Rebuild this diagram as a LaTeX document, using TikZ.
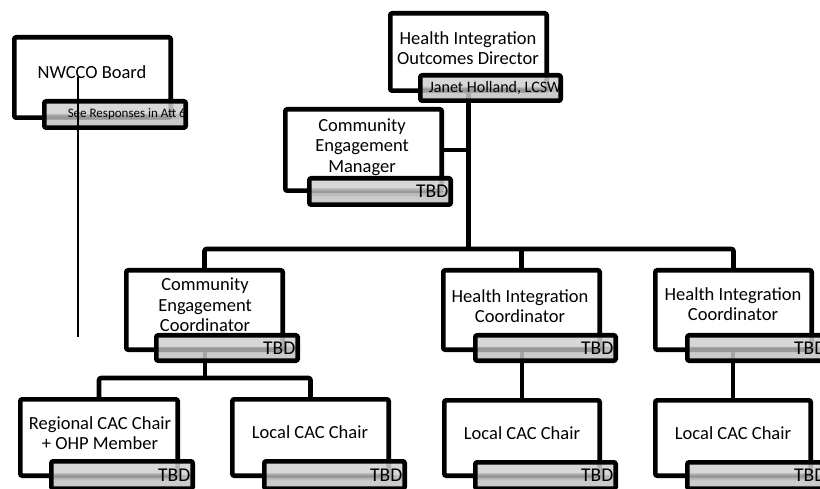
\documentclass[tikz,border=0pt]{standalone}
\usepackage{fontspec}
\setmainfont{Carlito}
\usetikzlibrary{backgrounds}
\definecolor{tbdgray}{RGB}{208,208,208}
\begin{document}
\begin{tikzpicture}[x=1pt,y=-1pt,
  frame/.style={draw=black,line width=4.6pt,fill=white,rounded corners=2pt,inner sep=0pt},
  tbdbox/.style={draw=black,line width=4.6pt,fill=tbdgray,fill opacity=0.85,
    rounded corners=2pt,inner sep=0pt,
    path picture={
      \fill[black,fill opacity=0.05] (path picture bounding box.south west)
        rectangle ([yshift=14pt]path picture bounding box.south east);
      \fill[black,fill opacity=0.08] ([yshift=8.5pt]path picture bounding box.south west)
        rectangle ([yshift=13.5pt]path picture bounding box.south east);}},
  title/.style={font=\fontsize{18.5}{20.5}\selectfont,align=center,inner sep=0pt},
  tbdtxt/.style={font=\fontsize{19.5}{20}\selectfont,inner sep=0pt,anchor=east},
  wire/.style={line width=4.6pt,line join=round},
  thin/.style={line width=1.3pt}]
\useasboundingbox (0,0) rectangle (820,489);
\clip (0,0) rectangle (820,489);

% board
\node[frame,minimum width=156.4pt,minimum height=80.4pt] (nw) at (92.5,77.5) {};
\node[title] (nwT) at (92,72) {NWCCO Board};
\node[tbdbox,minimum width=141.4pt,minimum height=26.4pt] (nwg) at (115,114.5) {};
\node[font=\fontsize{13}{14}\selectfont,inner sep=0pt,anchor=east] (nwgT)
  at ([xshift=-2pt]nwg.east) {See Responses in Att 6};

% director
\node[frame,minimum width=156.4pt,minimum height=77.4pt] (hiod) at (468.5,52) {};
\node[title] (hiodT) at (468,48) {Health Integration\\Outcomes Director};
\node[tbdbox,minimum width=140.4pt,minimum height=25.4pt] (janet) at (490.5,88) {};
\node[font=\fontsize{16}{17}\selectfont,inner sep=0pt,anchor=east] (janetT)
  at ([xshift=-1.5pt]janet.east) {Janet Holland, LCSW};

% manager
\node[frame,minimum width=156.4pt,minimum height=81.4pt] (cem) at (363.5,150) {};
\node[title] (cemT) at (362,147) {Community\\Engagement\\Manager};
\node[tbdbox,minimum width=141.4pt,minimum height=26.4pt] (cemg) at (380,191.5) {};
\node[tbdtxt] (cemgT) at ([xshift=-4.5pt]cemg.east) {TBD};

% second level
\node[frame,minimum width=156.4pt,minimum height=79.4pt] (cec) at (204.5,310) {};
\node[title] (cecT) at (205,305) {Community\\Engagement\\Coordinator};
\node[tbdbox,minimum width=141.4pt,minimum height=25.4pt] (cecg) at (227,348) {};
\node[tbdtxt] (cecgT) at ([xshift=-4.5pt]cecg.east) {TBD};

\node[frame,minimum width=156.4pt,minimum height=79.4pt] (hic1) at (521.5,310) {};
\node[title] (hic1T) at (520,306) {Health Integration\\Coordinator};
\node[tbdbox,minimum width=140.4pt,minimum height=25.4pt] (hic1g) at (545.5,348) {};
\node[tbdtxt] (hic1gT) at ([xshift=-4.5pt]hic1g.east) {TBD};

\node[frame,minimum width=156.4pt,minimum height=79.4pt] (hic2) at (733.5,310) {};
\node[title] (hic2T) at (733,304) {Health Integration\\Coordinator};
\node[tbdbox,minimum width=141.4pt,minimum height=25.4pt] (hic2g) at (758,348) {};
\node[tbdtxt] (hic2gT) at ([xshift=-4.5pt]hic2g.east) {TBD};

% third level
\node[frame,minimum width=157.4pt,minimum height=76.4pt] (reg) at (99,437.5) {};
\node[title] (regT) at (100,433) {Regional CAC Chair\\+ OHP Member};
\node[tbdbox,minimum width=141.4pt,minimum height=27.4pt] (regg) at (122,475) {};
\node[tbdtxt] (reggT) at ([xshift=-4.5pt]regg.east) {TBD};

\node[frame,minimum width=156.4pt,minimum height=76.4pt] (loc1) at (310.5,437.5) {};
\node[title] (loc1T) at (310,432) {Local CAC Chair};
\node[tbdbox,minimum width=140.4pt,minimum height=27.4pt] (loc1g) at (334.5,475) {};
\node[tbdtxt] (loc1gT) at ([xshift=-4.5pt]loc1g.east) {TBD};

\node[frame,minimum width=155.4pt,minimum height=75.4pt] (loc2) at (522,438) {};
\node[title] (loc2T) at (522,433) {Local CAC Chair};
\node[tbdbox,minimum width=140.4pt,minimum height=26.4pt] (loc2g) at (545.5,475.5) {};
\node[tbdtxt] (loc2gT) at ([xshift=-4.5pt]loc2g.east) {TBD};

\node[frame,minimum width=155.4pt,minimum height=75.4pt] (loc3) at (733,438) {};
\node[title] (loc3T) at (733,433) {Local CAC Chair};
\node[tbdbox,minimum width=141.4pt,minimum height=26.4pt] (loc3g) at (758,475.5) {};
\node[tbdtxt] (loc3gT) at ([xshift=-4.5pt]loc3g.east) {TBD};

% bus lines
\coordinate (bus) at (468.5,249);
\coordinate (bus2) at (205,378);

\begin{scope}[on background layer]
  \draw[wire] (hiod.center |- janet.center) -- (hiod.center |- bus);
  \draw[wire] (cem.east) -- (cem.east -| bus);
  \draw[wire,rounded corners=2pt] (cec.north) -- (cec.north |- bus)
    -- (hic2.north |- bus) -- (hic2.north);
  \draw[wire] (hic1.north) -- (hic1.north |- bus);
  \draw[wire] (bus2 |- cecg.center) -- (bus2);
  \draw[wire,rounded corners=2pt] (reg.north) -- (reg.north |- bus2)
    -- (loc1.north |- bus2) -- (loc1.north);
  \draw[wire] (loc2.north |- hic1g.center) -- (loc2.north);
  \draw[wire] (loc3.north |- hic2g.center) -- (loc3.north);
\end{scope}

% line from the board
\coordinate (boardTop) at (78,77);
\coordinate (boardEnd) at (78,337);
\draw[thin] (boardTop) -- (boardEnd);
\end{tikzpicture}
\end{document}
